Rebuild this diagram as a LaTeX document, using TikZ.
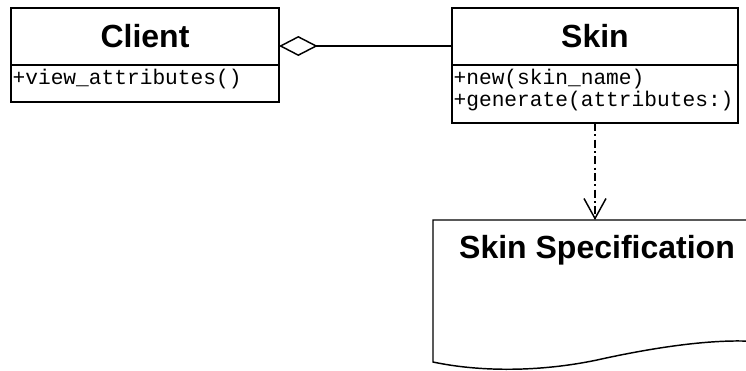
\documentclass[tikz,border=0pt]{standalone}
\usepackage{fontspec}
\setmainfont{Liberation Sans}
\setmonofont{Liberation Mono}
\usetikzlibrary{positioning}
\usetikzlibrary{arrows.meta}

\tikzset{
  class-head/.style={draw=black, line width=1.1pt, outer sep=0pt, inner sep=0pt,
    minimum height=42.75pt, font=\bfseries\fontsize{24}{28}\selectfont},
  class-body/.style={draw=black, line width=1.1pt, outer sep=0pt, inner sep=0pt},
  ops-text/.style={anchor=north west, inner xsep=1pt, inner ysep=0pt, align=left,
    font=\ttfamily\fontsize{15.9}{16.5}\selectfont},
  aggr-line/.style={line width=1.1pt, {Diamond[open, length=29pt, width=15pt]}-},
  dep-line/.style={line width=1.1pt, dash pattern=on 6pt off 2.5pt on 1.5pt off 2.5pt,
    -{Straight Barb[length=15pt, width=16.5pt]}},
  doc-shape/.style={draw=black, line width=1.1pt},
}

\begin{document}
\begin{tikzpicture}[x=0.75pt, y=-0.75pt]
\useasboundingbox (0,0) rectangle (746,371);
\clip (0,0) rectangle (746,371);

% classes
\node[class-head, minimum width=201pt] (chead) at (145,36.5) {Client};
\node[class-body, minimum width=201pt, minimum height=27.75pt, below=0pt of chead] (cbody) {};
\node[ops-text] (cops) at ([yshift=-3pt]cbody.north west) {+view\_attributes()};

\node[class-head, minimum width=214.5pt] (shead) at (595,36.5) {Skin};
\node[class-body, minimum width=214.5pt, minimum height=43.5pt, below=0pt of shead] (sbody) {};
\node[ops-text] (sops) at ([yshift=-3pt]sbody.north west) {+new(skin\_name)\\+generate(attributes:)};

% document
\draw[doc-shape] (433,362) -- (433,220) -- (761,220) -- (761,342)
  .. controls (720,338) and (660,346) .. (597,360)
  .. controls (540,372) and (480,372) .. (433,362) -- cycle;
\node[anchor=base, inner sep=0pt, font=\bfseries\fontsize{24}{28}\selectfont] (spec) at (597,258) {Skin Specification};
\coordinate (spec-top) at (597,220);

% connectors
\coordinate (agg-y) at (0,46);
\draw[aggr-line] (chead.east |- agg-y) -- (shead.west |- agg-y);
\draw[dep-line] (sbody.south) -- (sbody.south |- spec-top);
\end{tikzpicture}
\end{document}
